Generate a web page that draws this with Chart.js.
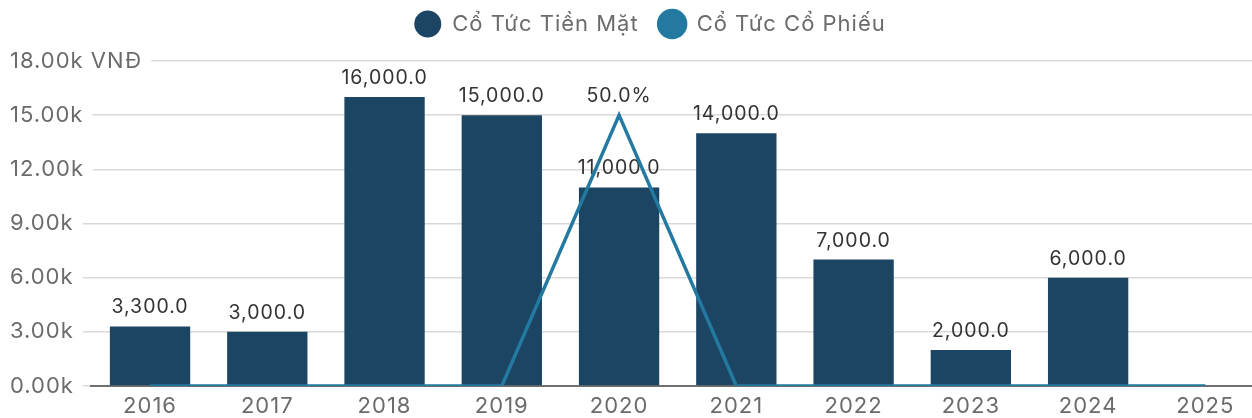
<!DOCTYPE html>
<html>
<head>
<meta charset="utf-8">
<script src="https://cdn.jsdelivr.net/npm/chart.js@4.4.1/dist/chart.umd.min.js"></script>
<style>
  html, body { margin: 0; padding: 0; overflow: hidden; background: #fff; }
  #wrap { width: 1264px; height: 418px; }
</style>
</head>
<body>
<div id="wrap"><canvas id="c" width="1264" height="418"></canvas></div>
<script>
const categories = ['2016', '2017', '2018', '2019', '2020', '2021', '2022', '2023', '2024', '2025'];
const cashDividend = [3300, 3000, 16000, 15000, 11000, 14000, 7000, 2000, 6000, 0];
const stockDividend = [0, 0, 0, 0, 50, 0, 0, 0, 0, 0];
const yTicks = [0, 3000, 6000, 9000, 12000, 15000, 18000];
const seriesNames = ['Cổ Tức Tiền Mặt', 'Cổ Tức Cổ Phiếu'];

const FONT = 'Inter, "Noto Sans", sans-serif';
const BAR_COLOR = '#1b4562';
const LINE_COLOR = '#2379a0';
const SPACING = '1px';

const fmtNum = v => v.toLocaleString('en-US', { minimumFractionDigits: 1, maximumFractionDigits: 1 });

const spacing = {
  id: 'spacing',
  beforeInit(chart) { chart.ctx.letterSpacing = SPACING; },
  beforeUpdate(chart) { chart.ctx.letterSpacing = SPACING; },
  beforeDraw(chart) { chart.ctx.letterSpacing = SPACING; }
};

const legendTweak = {
  id: 'legendTweak',
  beforeUpdate(chart) {
    const lg = chart.legend;
    if (lg && !lg._patched) {
      const f = lg.fit;
      lg.fit = function () { f.call(this); this.height = 68; };
      const d = lg.draw;
      lg.draw = function () {
        const ctx = this.ctx;
        ctx.save();
        ctx.translate(13, 0);
        d.call(this);
        ctx.restore();
      };
      lg._patched = true;
    }
  }
};

const valueLabels = {
  id: 'valueLabels',
  afterDatasetDraw(chart, args) {
    if (args.index !== 0) return;
    const ctx = chart.ctx;
    ctx.save();
    ctx.font = '19.5px ' + FONT;
    ctx.fillStyle = '#333';
    ctx.textAlign = 'center';
    ctx.textBaseline = 'alphabetic';
    args.meta.data.forEach((el, i) => {
      const v = cashDividend[i];
      if (!v) return;
      ctx.fillText(fmtNum(v), el.x, el.y - 13);
    });
    ctx.restore();
  },
  afterDatasetsDraw(chart) {
    const meta = chart.getDatasetMeta(1);
    const ctx = chart.ctx;
    ctx.save();
    ctx.font = '19.5px ' + FONT;
    ctx.fillStyle = '#333';
    ctx.textAlign = 'center';
    ctx.textBaseline = 'alphabetic';
    meta.data.forEach((el, i) => {
      const v = stockDividend[i];
      if (!v) return;
      ctx.fillText(v.toFixed(1) + '%', el.x, el.y - 13);
    });
    ctx.restore();
  }
};

new Chart(document.getElementById('c'), {
  data: {
    labels: categories,
    datasets: [
      {
        type: 'bar',
        label: seriesNames[0],
        data: cashDividend,
        backgroundColor: BAR_COLOR,
        borderWidth: 0,
        barPercentage: 0.685,
        categoryPercentage: 1,
        yAxisID: 'y',
        order: 2
      },
      {
        type: 'line',
        label: seriesNames[1],
        data: stockDividend,
        borderColor: LINE_COLOR,
        backgroundColor: LINE_COLOR,
        borderWidth: 3.5,
        pointRadius: 0,
        pointHoverRadius: 0,
        tension: 0,
        fill: false,
        yAxisID: 'y1',
        order: 1
      }
    ]
  },
  options: {
    responsive: false,
    animation: false,
    layout: { padding: { left: 10, right: 0, top: -7, bottom: 0 } },
    plugins: {
      tooltip: { enabled: false },
      legend: {
        position: 'top',
        align: 'center',
        labels: {
          usePointStyle: true,
          pointStyle: 'circle',
          boxHeight: 19,
          boxWidth: 19,
          pointStyleWidth: 27,
          padding: 20,
          color: '#6b6b6b',
          font: { family: FONT, size: 22 },
          sort: (a, b) => a.datasetIndex - b.datasetIndex
        }
      }
    },
    scales: {
      x: {
        offset: true,
        grid: { display: false, drawTicks: false },
        border: { display: true, color: '#707070', width: 2 },
        ticks: { color: '#6b6b6b', font: { family: FONT, size: 22 }, padding: 7, maxRotation: 0, autoSkip: false },
        afterFit(s) { s.height = 32; }
      },
      y: {
        position: 'left',
        min: 0,
        max: 18000,
        afterBuildTicks(s) { s.ticks = yTicks.map(v => ({ value: v })); },
        afterSetDimensions(s) { s._computeLabelArea = () => undefined; },
        grid: { color: '#d9d9d9', lineWidth: 1.5, tickLength: 81, tickColor: '#d9d9d9', tickWidth: 1.5 },
        border: { display: false },
        ticks: {
          crossAlign: 'far',
          color: '#6b6b6b',
          font: { family: FONT, size: 22 },
          padding: 0,
          showLabelBackdrop: true,
          backdropColor: '#ffffff',
          backdropPadding: { top: 2, bottom: 2, left: 10, right: 9 },
          callback: (v) => (v / 1000).toFixed(2) + 'k' + (v === 18000 ? ' VNĐ' : '')
        },
        afterFit(s) { s.width = 81.4; }
      },
      y1: {
        display: false,
        min: 0,
        max: 60
      }
    }
  },
  plugins: [spacing, legendTweak, valueLabels]
});
</script>
</body>
</html>
